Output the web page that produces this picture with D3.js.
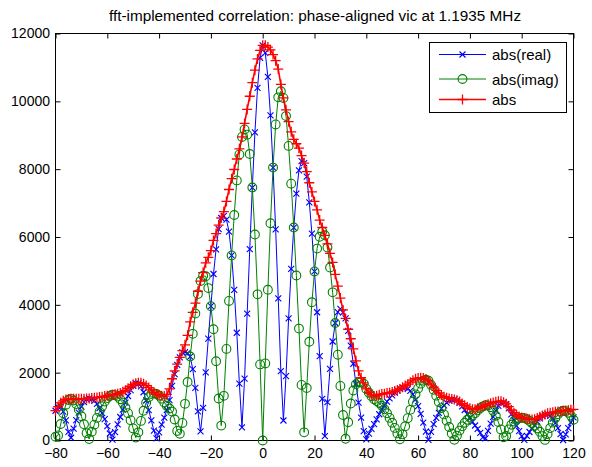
<!DOCTYPE html>
<html>
<head>
<meta charset="utf-8">
<script src="https://cdn.jsdelivr.net/npm/d3@7"></script>
<style>
  html, body { margin: 0; padding: 0; background: #fff; }
  svg text { font-family: "Liberation Sans", Arial, Helvetica, sans-serif; }
</style>
</head>
<body>
<svg id="chart" width="592" height="467"></svg>
<script>
const titleText = "fft-implemented correlation: phase-aligned vic at 1.1935 MHz";
const seriesNames = ["abs(real)", "abs(imag)", "abs"];
const xTicks = [-80, -60, -40, -20, 0, 20, 40, 60, 80, 100, 120];
const yTicks = [0, 2000, 4000, 6000, 8000, 10000, 12000];

const lags = [
-80,-79,-78,-77,-76,-75,-74,-73,-72,-71,-70,-69,-68,-67,-66,-65,-64,-63,-62,-61,
-60,-59,-58,-57,-56,-55,-54,-53,-52,-51,-50,-49,-48,-47,-46,-45,-44,-43,-42,-41,
-40,-39,-38,-37,-36,-35,-34,-33,-32,-31,-30,-29,-28,-27,-26,-25,-24,-23,-22,-21,
-20,-19,-18,-17,-16,-15,-14,-13,-12,-11,-10,-9,-8,-7,-6,-5,-4,-3,-2,-1,
0,1,2,3,4,5,6,7,8,9,10,11,12,13,14,15,16,17,18,19,
20,21,22,23,24,25,26,27,28,29,30,31,32,33,34,35,36,37,38,39,
40,41,42,43,44,45,46,47,48,49,50,51,52,53,54,55,56,57,58,59,
60,61,62,63,64,65,66,67,68,69,70,71,72,73,74,75,76,77,78,79,
80,81,82,83,84,85,86,87,88,89,90,91,92,93,94,95,96,97,98,99,
100,101,102,103,104,105,106,107,108,109,110,111,112,113,114,115,116,117,118,119,
120];

const absReal = [
877,989,998,852,595,256,81,349,599,820,1001,1134,1220,1239,1223,1170,1081,958,805,629,
425,206,23,248,475,693,912,1114,1312,1483,1612,1688,1683,1598,1423,1179,897,592,288,60,
241,467,675,899,1193,1609,1954,2232,2450,2600,2606,2579,2475,2102,1551,858,270,965,2007,3002,
3959,4909,5636,6229,6560,6622,6514,6157,5458,4442,3177,1677,390,1823,3738,5643,7459,9085,10395,11282,
11650,11429,10718,9585,8046,6227,4191,2048,590,1901,3600,5060,6278,7280,7965,8240,8180,7779,7022,6099,
4984,3781,2488,1225,130,1131,2113,2919,3464,3786,3881,3777,3600,3234,2796,2263,1662,1119,672,279,
36,200,346,481,623,774,910,1031,1148,1242,1330,1412,1475,1520,1559,1565,1524,1464,1363,1208,
1012,783,528,264,20,257,480,666,815,939,1036,1116,1174,1202,1210,1182,1112,1007,899,780,
666,546,442,340,225,95,63,281,498,699,877,1019,1112,1127,1071,944,770,598,434,275,
127,20,137,251,354,454,556,652,728,770,777,729,642,521,366,189,15,183,363,532,
680];

const absImag = [
110,150,486,801,1054,1193,1228,1180,1074,916,715,477,218,43,257,467,667,849,1007,1149,
1250,1314,1350,1337,1296,1217,1115,974,807,600,355,85,241,578,875,1110,1276,1368,1390,1370,
1319,1234,1123,1020,942,852,619,281,200,517,1080,1724,2475,3145,3742,4316,4700,4856,4842,4493,
3959,3280,2336,1238,440,1316,2700,4114,5458,6648,7669,8436,8950,9171,9018,8445,7459,6072,4309,2243,
0,2272,4443,6405,8046,9319,10118,10298,10100,9565,8686,7571,6278,4865,3299,1638,240,1546,2911,4075,
4984,5658,6006,6161,6050,5689,5100,4368,3464,2530,1608,751,50,538,1089,1474,1662,1718,1724,1676,
1520,1406,1305,1218,1163,1107,1023,918,801,666,523,372,210,35,182,420,657,903,1144,1360,
1536,1676,1763,1790,1760,1640,1495,1322,1138,955,769,585,398,207,19,145,292,417,524,610,
677,740,807,887,954,1006,1038,1033,980,875,730,544,327,93,135,329,466,562,624,655,
668,660,625,573,509,437,356,256,130,17,193,365,526,666,773,844,875,866,818,732,
612];

const absVal = [
880,1000,1110,1170,1210,1220,1230,1230,1230,1230,1230,1230,1240,1240,1250,1260,1270,1280,1290,1310,
1320,1330,1350,1360,1380,1400,1440,1480,1540,1600,1650,1690,1700,1700,1670,1620,1560,1490,1420,1370,
1340,1320,1310,1360,1520,1820,2050,2250,2450,2650,2820,3100,3500,3780,4050,4400,4700,4950,5240,5400,
5600,5900,6100,6350,6560,6750,7050,7400,7720,7990,8300,8600,8950,9350,9760,10150,10550,10920,11250,11500,
11650,11650,11600,11520,11380,11200,10950,10500,10100,9750,9400,9100,8880,8750,8620,8400,8180,7930,7600,7330,
7050,6800,6500,6280,6050,5800,5520,5250,4900,4550,4200,3850,3600,3280,3000,2700,2350,2050,1850,1700,
1520,1420,1350,1310,1320,1350,1370,1380,1400,1410,1430,1460,1490,1520,1570,1620,1660,1720,1780,1820,
1840,1850,1840,1810,1760,1660,1570,1480,1400,1340,1290,1260,1240,1220,1210,1190,1150,1090,1040,990,
950,920,920,950,980,1010,1040,1070,1100,1120,1140,1155,1160,1130,1080,1000,900,820,760,710,
680,660,640,625,620,630,660,700,740,770,800,815,830,845,855,865,875,885,895,905,
915];

const svg = d3.select("#chart");
const pLeft = 55.5, pRight = 573.5, pTop = 33.5, pBottom = 440.5;
const x = d3.scaleLinear().domain([-80, 120]).range([pLeft, pRight]);
const y = d3.scaleLinear().domain([0, 12000]).range([pBottom, pTop]);

svg.append("rect").attr("width", 592).attr("height", 467).attr("fill", "#fff");

// title
svg.append("text").attr("x", 315).attr("y", 21)
  .attr("text-anchor", "middle").attr("font-size", 15.3).attr("fill", "#000").text(titleText);

// axes
const fs = 14;
const gx = svg.append("g").attr("transform", `translate(0,${pBottom})`)
  .call(d3.axisBottom(x).tickValues(xTicks).tickFormat(d3.format("d")).tickSize(-5).tickSizeOuter(0).tickPadding(8));
const gxt = svg.append("g").attr("transform", `translate(0,${pTop})`)
  .call(d3.axisTop(x).tickValues(xTicks).tickFormat("").tickSize(-5).tickSizeOuter(0));
const gy = svg.append("g").attr("transform", `translate(${pLeft},0)`)
  .call(d3.axisLeft(y).tickValues(yTicks).tickFormat(d3.format("d")).tickSize(-5).tickSizeOuter(0).tickPadding(5.5));
const gyr = svg.append("g").attr("transform", `translate(${pRight},0)`)
  .call(d3.axisRight(y).tickValues(yTicks).tickFormat("").tickSize(-5).tickSizeOuter(0));
[gx, gxt, gy, gyr].forEach(g => {
  g.select(".domain").remove();
  g.selectAll("line").attr("stroke", "#000");
  g.selectAll("text").attr("font-size", fs).attr("fill", "#000")
    .attr("font-family", '"Liberation Sans", Arial, sans-serif');
});
svg.append("rect").attr("x", pLeft).attr("y", pTop).attr("width", pRight - pLeft).attr("height", pBottom - pTop)
  .attr("fill", "none").attr("stroke", "#000").attr("stroke-width", 1);

const plot = svg.append("g");
const line = d3.line();

function drawMarker(g, cx, cy, color, marker) {
  if (marker === "x") {
    const s = 3;
    g.append("path").attr("d", `M${cx - s},${cy - s}L${cx + s},${cy + s}M${cx - s},${cy + s}L${cx + s},${cy - s}`)
      .attr("stroke", color).attr("stroke-width", 1.1).attr("fill", "none");
  } else if (marker === "o") {
    g.append("circle").attr("cx", cx).attr("cy", cy).attr("r", 4.4)
      .attr("stroke", color).attr("stroke-width", 1.1).attr("fill", "none");
  } else {
    const s = 5;
    g.append("path").attr("d", `M${cx - s},${cy}L${cx + s},${cy}M${cx},${cy - s}L${cx},${cy + s}`)
      .attr("stroke", color).attr("stroke-width", 1.3).attr("fill", "none");
  }
}

function drawSeries(vals, color, lw, marker) {
  const pts = lags.map((l, i) => [x(l), y(vals[i])]);
  plot.append("path").attr("d", line(pts)).attr("fill", "none").attr("stroke", color).attr("stroke-width", lw);
  const g = plot.append("g");
  pts.forEach(p => drawMarker(g, p[0], p[1], color, marker));
}

drawSeries(absReal, "#0000ff", 1, "x");
drawSeries(absImag, "#008000", 1, "o");
drawSeries(absVal, "#ff0000", 1.6, "+");

// legend
const lg = svg.append("g");
lg.append("rect").attr("x", 429.5).attr("y", 42.5).attr("width", 137).attr("height", 70)
  .attr("fill", "#fff").attr("stroke", "#000").attr("stroke-width", 1);
const rows = [54.5, 79, 99.5];
const colors = ["#0000ff", "#008000", "#ff0000"];
const marks = ["x", "o", "+"];
seriesNames.forEach((name, i) => {
  lg.append("line").attr("x1", 439).attr("x2", 486).attr("y1", rows[i]).attr("y2", rows[i])
    .attr("stroke", colors[i]).attr("stroke-width", i === 2 ? 1.6 : 1);
  drawMarker(lg, 462.5, rows[i], colors[i], marks[i]);
  lg.append("text").attr("x", 492).attr("y", rows[i] + 5.5).attr("font-size", 15).attr("fill", "#000").text(name);
});
</script>
</body>
</html>
